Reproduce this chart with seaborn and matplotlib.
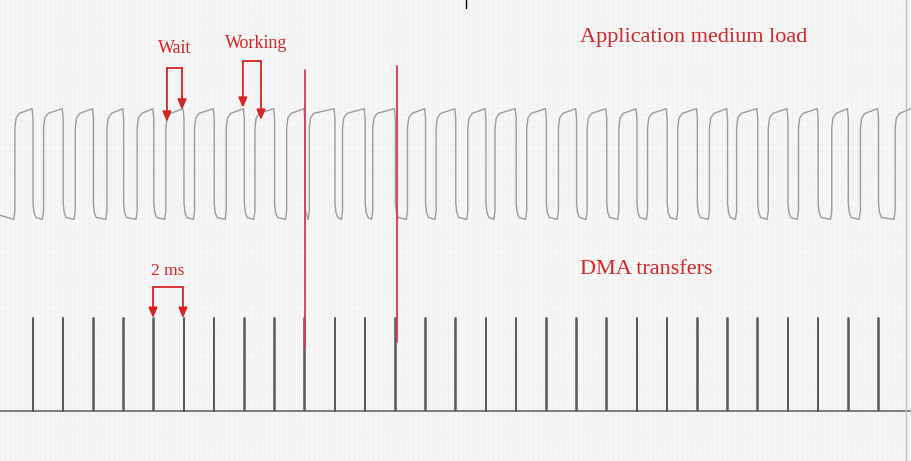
import numpy as np
import pandas as pd
import matplotlib
matplotlib.use("Agg")
import matplotlib.pyplot as plt
import seaborn as sns

# # Data (time in ms, levels in trace units)
dma_times = np.arange(0, 57, 2)          # DMA transfer pulses every 2 ms
dma_low, dma_high = 0.0, 1.0

load_rises = [-1.2, 0.7, 2.8, 4.9, 6.9, 8.8, 10.7, 12.8, 14.7, 16.8, 18.3, 20.5,
              22.5, 24.8, 26.7, 28.8, 30.6, 32.7, 34.8, 36.7, 38.8, 40.7, 42.7,
              44.8, 46.6, 48.7, 50.7, 52.9, 54.8, 57.1]
load_falls = list(np.arange(0, 57, 2))
load_low, load_high = 2.11, 3.18

marker_times = [18.0, 24.1]
marker_tops = [3.67, 3.71]
marker_bottoms = [0.68, 0.74]

RED = "#d42424"


# # Build the traces
def dma_trace(times, low, high, w=0.02):
    xs, ys = [-2.3], [low]
    for t in times:
        xs += [t - w, t - w, t + w, t + w]
        ys += [low, high, high, low]
    xs.append(58.3)
    ys.append(low)
    return pd.DataFrame({"t": xs, "v": ys})


def load_trace(rises, falls, low, high):
    xs, ys = [], []
    edges = sorted([(r, "r") for r in rises] + [(f, "f") for f in falls])
    xs.append(-2.3)
    ys.append(low)
    for t, kind in edges:
        if kind == "r":
            xs += [t - 0.08, t, t, t + 0.08, t + 0.3]
            ys += [low - 0.05, low + 0.04, high - 0.14, high - 0.03, high + 0.02]
        else:
            xs += [t - 0.06, t, t, t + 0.07, t + 0.2]
            ys += [high + 0.07, high - 0.04, low + 0.12, low + 0.02, low - 0.03]
    xs.append(58.3)
    ys.append(high + 0.08)
    return pd.DataFrame({"t": xs, "v": ys})


dma_df = dma_trace(dma_times, dma_low, dma_high)
load_df = load_trace(load_rises, load_falls, load_low, load_high)

sns.set_theme(style="white")
plt.rcParams['font.family'] = ['Liberation Serif', 'DejaVu Serif']

fig = plt.figure(figsize=(9.11, 4.61), dpi=100)
ax = fig.add_axes([0, 0, 1, 1])
ax.set_facecolor("#f6f6f6")

# graph paper look
for gx in np.arange(-2.2, 58.2, 0.33):
    ax.axvline(gx, color="#e2e2e2", lw=0.5, ls=(0, (1, 2)), zorder=0)
for gy in np.arange(-0.5, 4.5, 0.066):
    ax.axhline(gy, color="#e6e6e6", lw=0.5, ls=(0, (1, 2)), zorder=0)

sns.lineplot(data=load_df, x="t", y="v", sort=False, estimator=None,
             color="#9c9c9c", lw=1.0, ax=ax)
sns.lineplot(data=dma_df, x="t", y="v", sort=False, estimator=None,
             color="#5a5a5a", lw=1.1, ax=ax)

# red marker lines
for mt, top, bot in zip(marker_times, marker_tops, marker_bottoms):
    ax.plot([mt, mt], [bot, top], color="#d23a55", lw=1.3)

# brackets with arrows
def bracket(x0, x1, ybar, tip0, tip1):
    ax.plot([x0, x1], [ybar, ybar], color=RED, lw=1.3)
    for xx, tip in [(x0, tip0), (x1, tip1)]:
        ax.annotate("", xy=(xx, tip), xytext=(xx, ybar),
                    arrowprops=dict(arrowstyle="-|>,head_length=0.5,head_width=0.22",
                                    color=RED, lw=1.3, shrinkA=0, shrinkB=0))

bracket(8.87, 9.87, 3.69, 3.11, 3.24)
bracket(13.9, 15.1, 3.76, 3.26, 3.13)
bracket(7.95, 9.93, 1.33, 1.0, 1.0)

ax.text(9.4, 3.81, "Wait", color=RED, fontsize=13, ha="center", va="bottom")
ax.text(14.8, 3.86, "Working", color=RED, fontsize=13, ha="center", va="bottom")
ax.text(8.9, 1.42, "2 ms", color=RED, fontsize=12.5, ha="center", va="bottom")
ax.text(36.2, 4.02, "Application medium load", color=RED, fontsize=16, ha="left", va="center")
ax.text(36.2, 1.52, "DMA transfers", color=RED, fontsize=16, ha="left", va="center")

# small tick at the top edge
ax.plot([28.7, 28.7], [4.33, 4.42], color="black", lw=1)
# paper edge on the right
ax.axvline(57.8, color="#bdbdbd", lw=1)

ax.set_xlim(-2.185, 58.15)
ax.set_ylim(-0.538, 4.419)
ax.set_xlabel("")
ax.set_ylabel("")
ax.set_xticks([])
ax.set_yticks([])
for s in ax.spines.values():
    s.set_visible(False)

fig.savefig("out.png", dpi=100)
